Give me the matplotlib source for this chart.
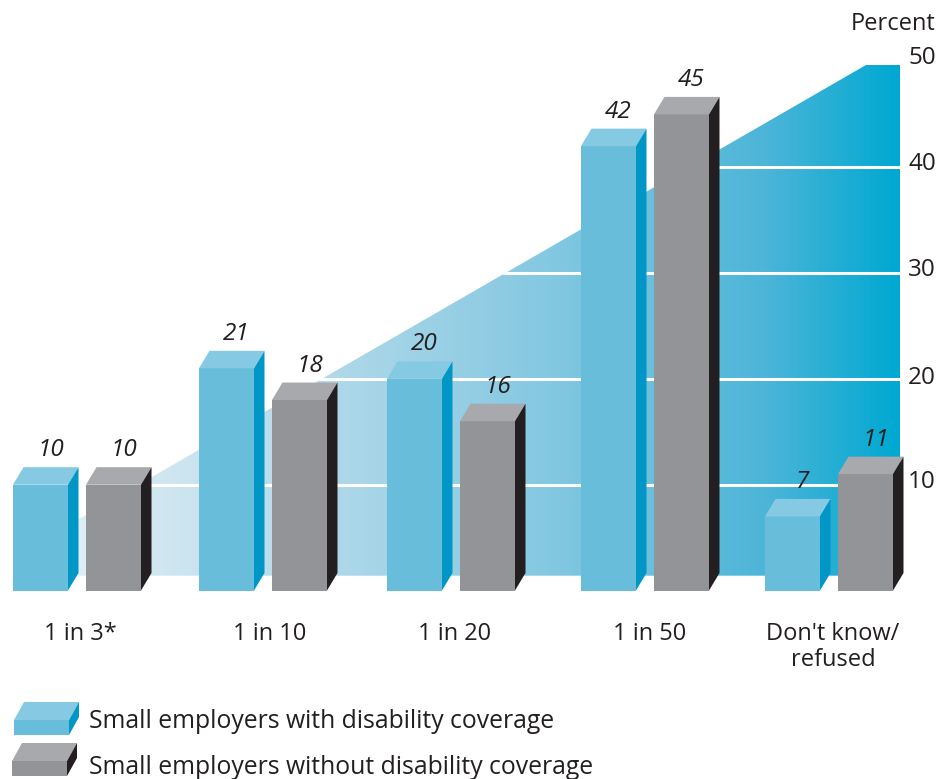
import numpy as np
import matplotlib
matplotlib.use('Agg')
import matplotlib.pyplot as plt
from matplotlib.colors import LinearSegmentedColormap
from matplotlib.patches import Polygon

plt.rcParams['font.family'] = ['Open Sans', 'DejaVu Sans']

categories = ['1 in 3*', '1 in 10', '1 in 20', '1 in 50', "Don't know/\nrefused"]
with_cov = [10, 21, 20, 42, 7]
without_cov = [10, 18, 16, 45, 11]
y_ticks = [10, 20, 30, 40, 50]
legend_names = ['Small employers with disability coverage',
                'Small employers without disability coverage']

# pixel layout
W, H = 948, 779
ZERO = 590.5
PX = 10.58
BAR_W = 55
DX, DY = 10.5, 17.5 / PX
left_blue = [13, 199, 387, 581, 765]
left_grey = [86, 272, 460, 654, 838]
cat_x = [80, 270, 455, 650, 833]


def py(p):
    return (ZERO - p) / PX


fig = plt.figure(figsize=(W / 100, H / 100), dpi=100)
ax = fig.add_axes([0, 0, 1, 1])
ax.set_xlim(0, W)
ax.set_ylim(py(H), py(0))
ax.axis('off')

# background wedge with gradient
wedge = Polygon([(20, py(553)), (866, py(65)), (900, py(65)), (900, py(575.7)), (20, py(575.7))],
                closed=True, facecolor='none', edgecolor='none', transform=ax.transData)
ax.add_patch(wedge)
cmap = LinearSegmentedColormap.from_list('wedge', [
    (0, '#e6f3f8'), (0.17, '#cfe6f0'), (0.39, '#a9d6e8'), (0.6, '#84c8e1'),
    (0.85, '#4cb5d8'), (1, '#00a8d2')])
grad = np.linspace(0, 1, 256).reshape(1, -1)
im = ax.imshow(grad, cmap=cmap, extent=[20, 900, py(575.7), py(65)], aspect='auto', zorder=1)
im.set_clip_path(wedge)
for t in y_ticks[:-1]:
    ln, = ax.plot([20, 900], [t, t], color='white', lw=2.2, zorder=2, solid_capstyle='butt')
    ln.set_clip_path(wedge)


def bar3d(x, v, front, top, side, z=3):
    ax.bar(x, v, width=BAR_W, align='edge', color=front, linewidth=0, zorder=z)
    ax.add_patch(Polygon([(x, v), (x + DX, v + DY), (x + BAR_W + DX, v + DY), (x + BAR_W, v)],
                         closed=True, fc=top, ec='none', zorder=z))
    ax.add_patch(Polygon([(x + BAR_W, 0), (x + BAR_W + DX, DY), (x + BAR_W + DX, v + DY), (x + BAR_W, v)],
                         closed=True, fc=side, ec='none', zorder=z))


BLUE = ('#68bddb', '#85c9e3', '#0097c6')
GREY = ('#929497', '#a7a9ac', '#231f20')
for i in range(len(categories)):
    bar3d(left_blue[i], with_cov[i], *BLUE)
    bar3d(left_grey[i], without_cov[i], *GREY)
    ax.text(left_blue[i] + BAR_W / 2 + 10, with_cov[i] + 34.5 / PX, str(with_cov[i]), style='italic',
            fontsize=17.5, color='#231f20', ha='center', va='center', zorder=5)
    ax.text(left_grey[i] + BAR_W / 2 + 10, without_cov[i] + 34.5 / PX, str(without_cov[i]), style='italic',
            fontsize=17.5, color='#231f20', ha='center', va='center', zorder=5)
    ax.text(cat_x[i], py(647 if '\n' in categories[i] else 634), categories[i], fontsize=17,
            color='#231f20', ha='center', va='center', linespacing=1.08, zorder=5)

# axis labels
label_px = [482, 378, 270, 164, 58]
for t, p in zip(y_ticks, label_px):
    ax.text(936, py(p), str(t), fontsize=17.5, color='#231f20', ha='right', va='center')
ax.text(936, py(24), 'Percent', fontsize=17, color='#231f20', ha='right', va='center')

# legend
for (x0, p0, cols, name, tp) in [(14, 735, BLUE, legend_names[0], 721),
                                 (12, 776, GREY, legend_names[1], 767)]:
    h, dx, dy = 15, 10, 18
    ax.add_patch(Polygon([(x0, py(p0)), (x0 + 55, py(p0)), (x0 + 55, py(p0 - h)), (x0, py(p0 - h))], fc=cols[0], ec='none'))
    ax.add_patch(Polygon([(x0, py(p0 - h)), (x0 + 55, py(p0 - h)), (x0 + 55 + dx, py(p0 - h - dy)), (x0 + dx, py(p0 - h - dy))], fc=cols[1], ec='none'))
    ax.add_patch(Polygon([(x0 + 55, py(p0)), (x0 + 55 + dx, py(p0 - dy)), (x0 + 55 + dx, py(p0 - h - dy)), (x0 + 55, py(p0 - h))], fc=cols[2], ec='none'))
    ax.text(89, py(tp), name, fontsize=17.8, color='#231f20', ha='left', va='center')

fig.savefig('out.png', dpi=100)
